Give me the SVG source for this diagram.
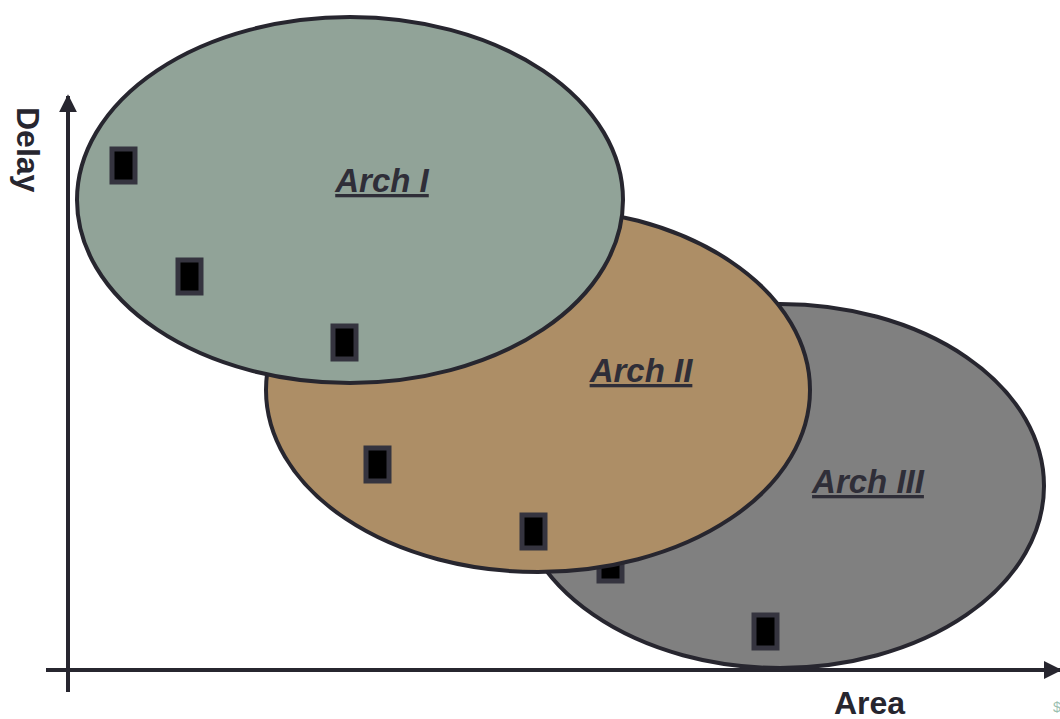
<svg xmlns="http://www.w3.org/2000/svg" width="1060" height="719" viewBox="0 0 1060 719">
  <style>
    .arch { stroke: #27262f; stroke-width: 4; }
    .pt { fill: #000; stroke: #35343f; stroke-width: 5; }
    .axis { stroke: #27262f; stroke-width: 4; fill: none; }
    .lbl { font-family: "Liberation Sans", Arial, sans-serif; font-weight: bold; font-style: italic; font-size: 33px; fill: #2f2e38; text-decoration: underline; text-anchor: middle; }
    .ax { font-family: "Liberation Sans", Arial, sans-serif; font-weight: bold; font-size: 32px; fill: #27262f; }
  </style>
  <defs>
    <marker id="arrow" viewBox="0 0 10 10" refX="9" refY="5" markerWidth="4.5" markerHeight="4.5" markerUnits="strokeWidth" orient="auto">
      <path d="M0,0 L10,5 L0,10 z" fill="#27262f"/>
    </marker>
  </defs>
  <rect width="1060" height="719" fill="#fff"/>

  <!-- axes -->
  <g id="connectors">
    <line class="axis" x1="68" y1="692" x2="68" y2="96" marker-end="url(#arrow)"/>
    <line class="axis" x1="46" y1="670" x2="1060" y2="670" marker-end="url(#arrow)"/>
  </g>

  <!-- architecture regions, back to front -->
  <g id="arch3">
    <ellipse class="arch" cx="780" cy="486" rx="264" ry="182" fill="#808080"/>
    <rect class="pt" x="599" y="548" width="23" height="33"/>
    <rect class="pt" x="754" y="615" width="23" height="33"/>
    <text class="lbl" x="868" y="493">Arch III</text>
  </g>
  <g id="arch2">
    <ellipse class="arch" cx="538" cy="390" rx="272" ry="182" fill="#ad8e66"/>
    <rect class="pt" x="366" y="448" width="23" height="33"/>
    <rect class="pt" x="522" y="515" width="23" height="33"/>
    <text class="lbl" x="641" y="382">Arch II</text>
  </g>
  <g id="arch1">
    <ellipse class="arch" cx="350" cy="200" rx="273" ry="183" fill="#91a398"/>
    <rect class="pt" x="112" y="149" width="23" height="33"/>
    <rect class="pt" x="178" y="260" width="23" height="33"/>
    <rect class="pt" x="333" y="326" width="23" height="33"/>
    <text class="lbl" x="382" y="192">Arch I</text>
  </g>

  <!-- axis titles -->
  <text class="ax" x="0" y="0" transform="translate(17,107) rotate(90)">Delay</text>
  <text class="ax" x="834" y="714">Area</text>
  <text x="1053" y="712" font-family="Liberation Sans, Arial, sans-serif" font-size="14" fill="#9bbfb0">$</text>
</svg>
